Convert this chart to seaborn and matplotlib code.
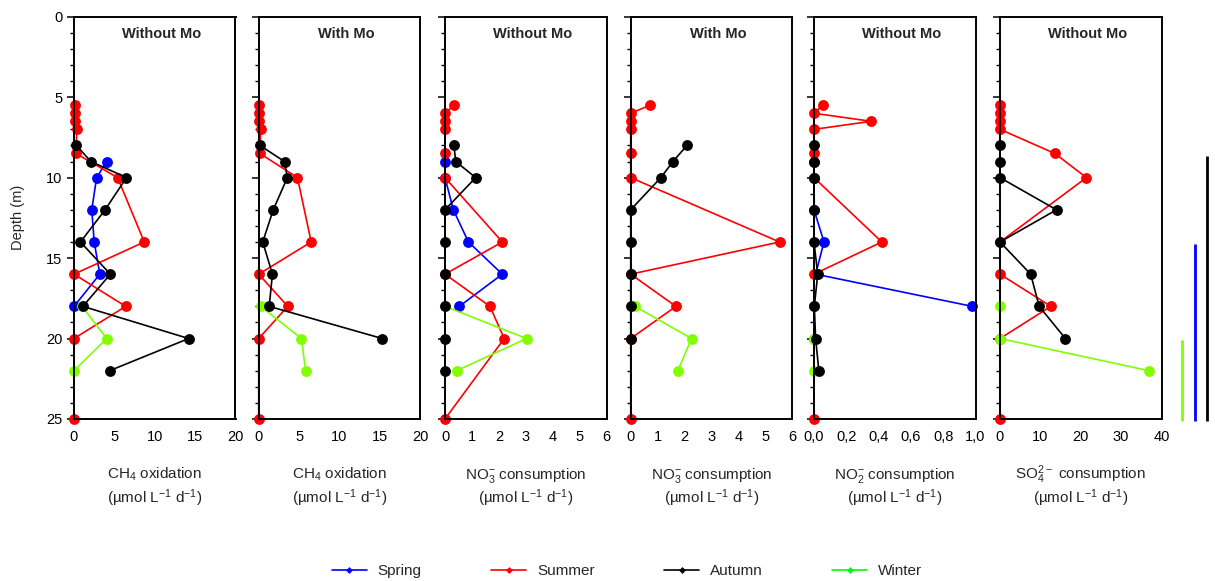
import numpy as np
import pandas as pd
import matplotlib
matplotlib.use("Agg")
import matplotlib.pyplot as plt
from matplotlib.lines import Line2D
from matplotlib.ticker import MultipleLocator, FuncFormatter
import seaborn as sns

# ---------------- data ----------------
seasons = ["Spring", "Summer", "Autumn", "Winter"]
draw_order = ["Spring", "Summer", "Winter", "Autumn"]

depth_summer = [5.5, 6, 6.5, 7, 8.5, 10, 14, 16, 18, 20, 25]
depth_spring = [9, 10, 12, 14, 16, 18]
depth_autumn_long = [8, 9, 10, 12, 14, 16, 18, 20, 22]
depth_autumn_short = [8, 9, 10, 12, 14, 16, 18, 20]
depth_winter = [18, 20, 22]

titles = ["Without Mo", "With Mo", "Without Mo", "With Mo", "Without Mo", "Without Mo"]
xlabel_line1 = [
    "CH$_4$ oxidation",
    "CH$_4$ oxidation",
    "NO$_3^{-}$ consumption",
    "NO$_3^{-}$ consumption",
    "NO$_2^{-}$ consumption",
    "SO$_4^{2-}$ consumption",
]
xlabel_line2 = "(µmol L$^{-1}$ d$^{-1}$)"
xmax = [20, 20, 6, 6, 1.0, 40]
xstep = [5, 5, 1, 1, 0.2, 10]

# panel 1: CH4 oxidation without Mo
p1_spring = [4.05, 2.8, 2.2, 2.5, 3.2, 0]
p1_summer = [0.15, 0.1, 0.1, 0.35, 0.25, 5.4, 8.7, 0, 6.4, 0, 0]
p1_autumn = [0.3, 2.1, 6.5, 3.85, 0.8, 4.5, 1.1, 14.2, 4.4]
p1_winter = [1.0, 4.05, 0]
# panel 2: CH4 oxidation with Mo
p2_summer = [0, 0.05, 0.05, 0.25, 0.15, 4.8, 6.5, 0, 3.6, 0, 0]
p2_autumn = [0.15, 3.2, 3.55, 1.8, 0.5, 1.7, 1.3, 15.3]
p2_winter = [0.25, 5.3, 5.8]
# panel 3: NO3- consumption without Mo
p3_spring = [0, 0, 0.31, 0.87, 2.13, 0.53]
p3_summer = [0.33, 0, 0, 0, 0, 0, 2.13, 0, 1.67, 2.2, 0]
p3_autumn = [0.33, 0.4, 1.14, 0, 0, 0, 0, 0, 0]
p3_winter = [0, 3.03, 0.43]
# panel 4: NO3- consumption with Mo
p4_summer = [0.72, 0, 0, 0, 0, 0, 5.53, 0, 1.68, 0, 0]
p4_autumn = [2.09, 1.57, 1.12, 0, 0, 0, 0, 0]
p4_winter = [0.16, 2.26, 1.75]
# panel 5: NO2- consumption without Mo
p5_spring = [0, 0, 0, 0.062, 0.01, 0.98]
p5_summer = [0.054, 0, 0.354, 0, 0, 0, 0.42, 0, 0, 0, 0]
p5_autumn = [0, 0, 0, 0.002, 0, 0.023, 0.002, 0.01, 0.03]
p5_winter = [0, 0, 0]
# panel 6: SO4 2- consumption without Mo
p6_summer = [0, 0, 0, 0, 13.6, 21.4, 0, 0, 12.6, 0, 0]
p6_autumn = [0, 0, 0, 14.0, 0, 7.6, 9.7, 16.2]
p6_winter = [0, 0, 36.9]

# vertical bars at the right side
bar_seasons = ["Winter", "Spring", "Autumn"]
bar_top = [20.1, 14.1, 8.65]
bar_bottom = [25.1, 25.1, 25.1]

palette = {"Spring": "#0000ff", "Summer": "#ff0000", "Autumn": "#000000", "Winter": "#80ff00"}
legend_colors = {"Spring": "#0000ff", "Summer": "#ff0000", "Autumn": "#000000", "Winter": "#00ff00"}

series = [
    [("Spring", depth_spring, p1_spring), ("Summer", depth_summer, p1_summer),
     ("Autumn", depth_autumn_long, p1_autumn), ("Winter", depth_winter, p1_winter)],
    [("Summer", depth_summer, p2_summer), ("Autumn", depth_autumn_short, p2_autumn),
     ("Winter", depth_winter, p2_winter)],
    [("Spring", depth_spring, p3_spring), ("Summer", depth_summer, p3_summer),
     ("Autumn", depth_autumn_long, p3_autumn), ("Winter", depth_winter, p3_winter)],
    [("Summer", depth_summer, p4_summer), ("Autumn", depth_autumn_short, p4_autumn),
     ("Winter", depth_winter, p4_winter)],
    [("Spring", depth_spring, p5_spring), ("Summer", depth_summer, p5_summer),
     ("Autumn", depth_autumn_long, p5_autumn), ("Winter", depth_winter, p5_winter)],
    [("Summer", depth_summer, p6_summer), ("Autumn", depth_autumn_short, p6_autumn),
     ("Winter", depth_winter, p6_winter)],
]

rows = []
for pi, plist in enumerate(series):
    for season, dep, vals in plist:
        for d, v in zip(dep, vals):
            rows.append({"panel": pi, "season": season, "depth": d, "value": v})
df = pd.DataFrame(rows)

# ---------------- style ----------------
sns.set_style("ticks")
plt.rcParams["font.family"] = ["Liberation Sans", "DejaVu Sans"]
plt.rcParams["mathtext.default"] = "regular"
plt.rcParams["mathtext.fontset"] = "custom"
plt.rcParams["mathtext.rm"] = "Liberation Sans"

W, H = 1215, 581
fig = plt.figure(figsize=(W / 100, H / 100), dpi=100)

lefts = [74, 258.7, 445, 630.7, 814, 1000]
aw = 161.5
top_px, bot_px = 16.7, 419
ah = bot_px - top_px

def comma_fmt(v, pos):
    return f"{v:.1f}".replace(".", ",")

for i in range(6):
    ax = fig.add_axes([lefts[i] / W, 1 - bot_px / H, aw / W, ah / H])
    sub = df[df["panel"] == i]
    order = [s for s in draw_order if s in set(sub["season"])]
    sns.lineplot(data=sub, x="value", y="depth", hue="season", hue_order=order,
                 palette=palette, orient="y", estimator=None, marker="o",
                 markersize=7.8, markeredgewidth=0, linewidth=1.2,
                 legend=False, clip_on=False, ax=ax)
    ax.set_ylim(25, 0)
    ax.set_xlim(0, xmax[i])
    ax.xaxis.set_major_locator(MultipleLocator(xstep[i]))
    if i == 4:
        ax.xaxis.set_major_formatter(FuncFormatter(comma_fmt))
    ax.yaxis.set_major_locator(MultipleLocator(5))
    ax.yaxis.set_minor_locator(MultipleLocator(1))
    ax.tick_params(axis="x", length=0, pad=8, labelsize=10.5, colors="black")
    ax.tick_params(axis="y", which="major", length=5, width=1.1, direction="out",
                   labelsize=10.5, colors="black")
    ax.tick_params(axis="y", which="minor", length=3, width=1.0, direction="out", colors="black")
    for sp in ax.spines.values():
        sp.set_visible(True)
        sp.set_linewidth(1.4)
        sp.set_color("black")
    if i == 0:
        ax.set_ylabel("Depth (m)", fontsize=10.5)
        ax.yaxis.set_label_coords((25 - 74) / aw, 0.5)
    else:
        ax.set_ylabel("")
        ax.set_yticklabels([])
    ax.set_xlabel("")
    ax.text(0.5, (bot_px - 479) / ah, xlabel_line1[i], transform=ax.transAxes,
            ha="center", va="baseline", fontsize=11)
    ax.text(0.5, (bot_px - 503) / ah, xlabel_line2, transform=ax.transAxes,
            ha="center", va="baseline", fontsize=11)
    ax.text(0.54, 0.958, titles[i], transform=ax.transAxes, ha="center", va="center",
            fontsize=10.5, fontweight="bold")

# right side vertical bars
axb = fig.add_axes([1176 / W, 1 - bot_px / H, 37 / W, ah / H])
axb.vlines(range(len(bar_seasons)), bar_top, bar_bottom,
           colors=[palette[s] for s in bar_seasons], linewidth=2.0, clip_on=False)
axb.set_xlim(-0.5, 2.5)
axb.set_ylim(25, 0)
axb.axis("off")

handles = [Line2D([0], [0], color=legend_colors[s], marker="D", markersize=3.5,
                  linewidth=1.2, markeredgewidth=0) for s in seasons]
fig.legend(handles, seasons, loc="center", bbox_to_anchor=(627 / W, 1 - 571 / H),
           ncol=4, frameon=False, fontsize=11, handlelength=2.3, handletextpad=0.7,
           columnspacing=4.55)

fig.savefig("out.png", dpi=100)
